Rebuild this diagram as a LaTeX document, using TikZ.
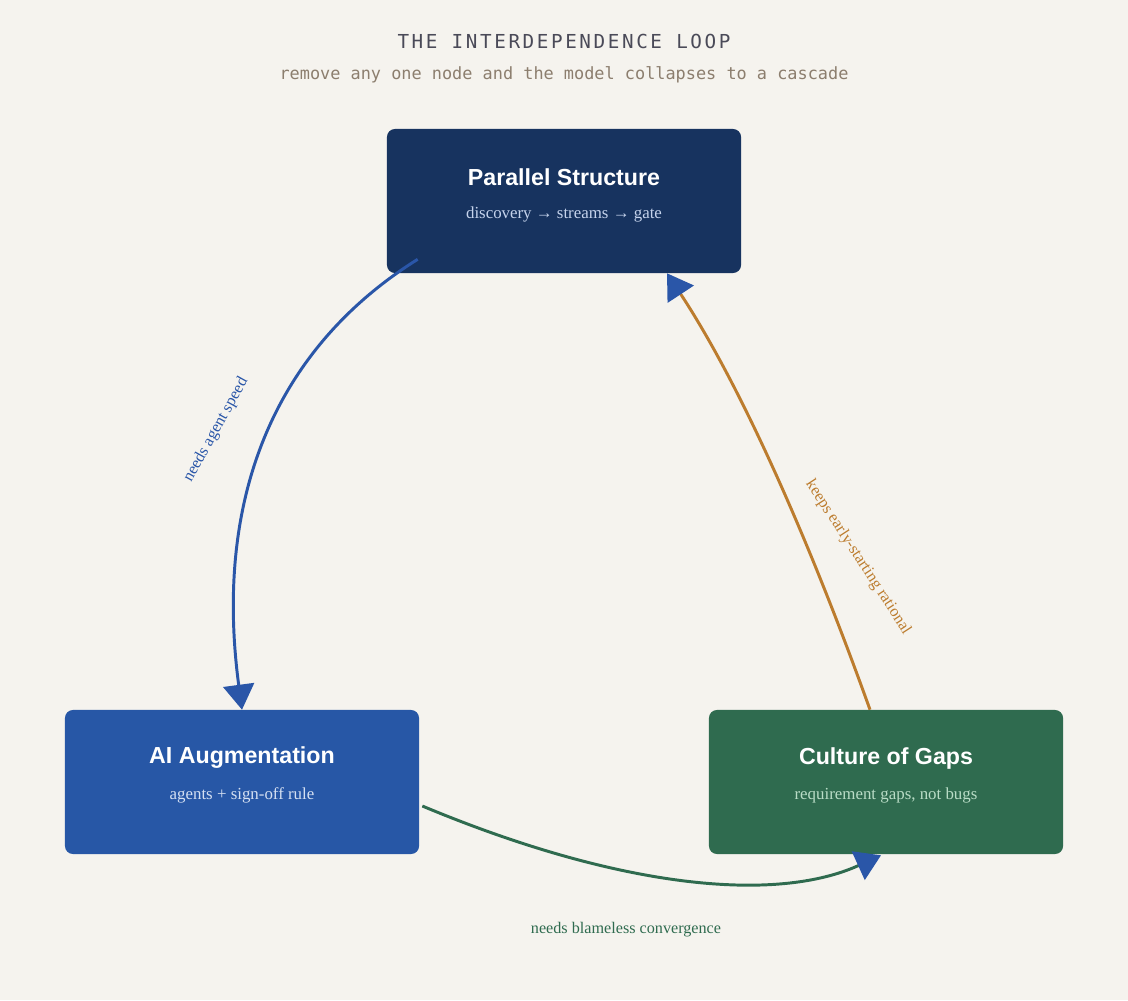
\documentclass[tikz,border=0pt]{standalone}
\usepackage{fontspec}
\setmainfont{Liberation Serif}
\newfontfamily\headfont{Liberation Sans}
\newfontfamily\codefont{DejaVu Sans Mono}
\newfontfamily\codefontwide[LetterSpace=13.5]{DejaVu Sans Mono}
\usetikzlibrary{arrows.meta}

\definecolor{paper}{HTML}{F5F3EE}
\definecolor{navy}{HTML}{17335F}
\definecolor{aiblue}{HTML}{2757A6}
\definecolor{gapgreen}{HTML}{2F6B4F}
\definecolor{linkblue}{HTML}{2A56A8}
\definecolor{linkorange}{HTML}{BC7C2E}
\definecolor{titlegray}{HTML}{4A4A58}
\definecolor{notegray}{HTML}{8C7E6E}
\definecolor{navysub}{HTML}{C5D3EC}
\definecolor{bluesub}{HTML}{D5E0F2}
\definecolor{greensub}{HTML}{B9DCC6}

\begin{document}
\begin{tikzpicture}[
        x=0.025cm, y=-0.025cm, % 1 unit = 1 px, y grows downward
        box/.style={rounded corners=5.7pt, minimum width=8.85cm, minimum height=3.6cm, inner sep=0pt}, % node boxes
        head/.style={text=white, font=\headfont\bfseries\fontsize{16.5}{20}\selectfont},
        sub/.style={font=\fontsize{12}{14}\selectfont},
        link/.style={line width=2.1pt, -{Triangle[length=17.8pt, width=22pt, color=linkblue]}},
        kant/.style={font=\fontsize{11.5}{14}\selectfont}, % edge labels
    ]

    \useasboundingbox[fill=paper] (0,0) rectangle (1128,1000);

    \node[text=titlegray, font=\codefontwide\fontsize{13.7}{16}\selectfont] (title) at (564,41) {THE INTERDEPENDENCE LOOP};
    \node[text=notegray, font=\codefont\fontsize{12}{14}\selectfont] (subtitle) at (564,75) {remove any one node and the model collapses to a cascade};

    \node[box, fill=navy] (ps) at (564,201) {};
    \node[head] (ps-head) at ([shift={(0,-24)}]ps.center) {Parallel Structure};
    \node[sub, text=navysub] (ps-sub) at ([shift={(0,13)}]ps.center) {discovery → streams → gate};

    \node[box, fill=aiblue] (ai) at (242,782) {};
    \node[head] (ai-head) at ([shift={(0,-24)}]ai.center) {AI Augmentation};
    \node[sub, text=bluesub] (ai-sub) at ([shift={(0,13)}]ai.center) {agents + sign-off rule};

    \node[box, fill=gapgreen] (cg) at (886,782) {};
    \node[head] (cg-head) at ([shift={(0,-24)}]cg.center) {Culture of Gaps};
    \node[sub, text=greensub] (cg-sub) at ([shift={(0,13)}]cg.center) {requirement gaps, not bugs};

    \draw[link, linkblue] ([shift={(31,-14)}]ps.south west) .. controls (273,350) and (214,500) .. (ai.north);
    \draw[link, gapgreen] ([shift={(3,24)}]ai.east) .. controls (621,889) and (776,903) .. ([shift={(-5,1)}]cg.south);
    \draw[link, linkorange] ([shift={(-16,0)}]cg.north) .. controls (803,523) and (736,378) .. ([shift={(103,0)}]ps.south);

    \node[kant, text=linkblue, rotate=61] (l-speed) at (216,430) {needs agent speed};
    \node[kant, text=linkorange, rotate=-57] (l-keeps) at (858,557) {keeps early-starting rational};
    \node[kant, text=gapgreen] (l-blame) at (626,930) {needs blameless convergence};

\end{tikzpicture}
\end{document}
